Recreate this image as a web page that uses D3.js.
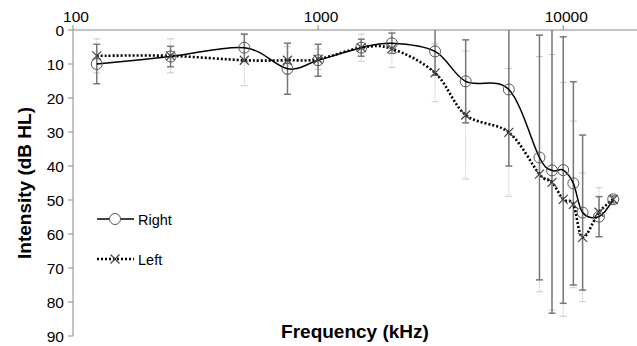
<!DOCTYPE html>
<html>
<head>
<meta charset="utf-8">
<script src="https://cdn.jsdelivr.net/npm/d3@7"></script>
<style>
  body { margin: 0; background: #fff; }
  svg text { font-family: "Liberation Sans", Arimo, Arial, sans-serif; fill: #000; }
</style>
</head>
<body>
<div id="chart"></div>
<script>
// audiogram values
const freqs = [125, 250, 500, 750, 1000, 1500, 2000, 3000, 4000, 6000, 8000, 9000, 10000, 11000, 12000, 14000, 16000];
const rightMean = [10, 7.8, 5.2, 11.4, 8.9, 5.2, 3.9, 6.3, 15.1, 17.5, 37.5, 41.3, 41.2, 45.1, 53.7, 54.9, 49.8];
const rightSD = [5.8, 3, 4, 7.5, 4.7, 2.5, 3, 7, 12.2, 22.5, 36, 42, 39.2, 29.9, 22.8, 5.9, 1];
const leftMean = [7.6, 7.6, 8.9, 8.9, 8.6, 5.2, 5.5, 12.6, 25, 30.1, 42.4, 44.8, 49.8, 51.3, 61, 53.6, 49.8];
const leftSD = [5, 5, 7.5, 4, 3, 4, 5.5, 8.5, 18.8, 18.8, 34.6, 37.6, 34.4, 24.5, 18.9, 7.2, 1];
const xTicks = [100, 1000, 10000];
const yTicks = [0, 10, 20, 30, 40, 50, 60, 70, 80, 90];

const width = 637, height = 346;
const font = "Liberation Sans, Arial, sans-serif";
const svg = d3.select("#chart").append("svg")
    .attr("width", width).attr("height", height);

const x = d3.scaleLog().domain([100, 20000]).range([73, 637]);
const y = d3.scaleLinear().domain([0, 90]).range([30, 336]);

// clip error bars to the plot area
svg.append("clipPath").attr("id", "plot")
  .append("rect").attr("x", 73).attr("y", 30).attr("width", 564).attr("height", 306);

const right = freqs.map((f, i) => ({f, m: rightMean[i], sd: rightSD[i]}));
const left = freqs.map((f, i) => ({f, m: leftMean[i], sd: leftSD[i]}));

function errorBars(data, color, dash, w) {
    const g = svg.append("g").attr("clip-path", "url(#plot)")
        .attr("stroke", color).attr("stroke-width", w);
    g.selectAll("line.v").data(data).join("line")
        .attr("x1", d => x(d.f)).attr("x2", d => x(d.f))
        .attr("y1", d => y(d.m - d.sd)).attr("y2", d => y(d.m + d.sd))
        .attr("stroke-dasharray", dash);
    [-1, 1].forEach(s => {
        g.selectAll(null).data(data).join("line")
            .attr("x1", d => x(d.f) - 3.5).attr("x2", d => x(d.f) + 3.5)
            .attr("y1", d => y(d.m + s * d.sd)).attr("y2", d => y(d.m + s * d.sd));
    });
}
errorBars(left, "#c8c8c8", "1.5,1", 1);
errorBars(right, "#777", null, 1.5);

// axes
const axisCol = "#888";
svg.append("line").attr("x1", 73).attr("x2", 73).attr("y1", 30).attr("y2", 336)
    .attr("stroke", axisCol);
svg.append("line").attr("x1", 73).attr("x2", 637).attr("y1", 30).attr("y2", 30)
    .attr("stroke", axisCol);

svg.selectAll("line.yt").data(yTicks).join("line")
    .attr("x1", 68).attr("x2", 73).attr("y1", d => y(d)).attr("y2", d => y(d))
    .attr("stroke", axisCol);
svg.selectAll("text.yl").data(yTicks).join("text")
    .attr("x", 64).attr("y", d => y(d) + 5.5)
    .attr("text-anchor", "end").attr("font-size", 15.5).attr("font-family", font)
    .text(d => d);

svg.selectAll("line.xt").data(xTicks).join("line")
    .attr("x1", d => x(d)).attr("x2", d => x(d)).attr("y1", 25).attr("y2", 30)
    .attr("stroke", axisCol);
svg.selectAll("text.xl").data(xTicks).join("text")
    .attr("x", d => x(d) + 3).attr("y", 21.5)
    .attr("text-anchor", "middle").attr("font-size", 15.5).attr("font-family", font)
    .text(d => d);

svg.append("text").attr("transform", "translate(31,183) rotate(-90)")
    .attr("text-anchor", "middle").attr("font-size", 19).attr("font-weight", "bold")
    .attr("font-family", font)
    .text("Intensity (dB HL)");
svg.append("text").attr("x", 355).attr("y", 338)
    .attr("text-anchor", "middle").attr("font-size", 19).attr("font-weight", "bold")
    .attr("font-family", font)
    .text("Frequency (kHz)");

// lines
const line = d3.line().x(d => x(d.f)).y(d => y(d.m)).curve(d3.curveCatmullRom.alpha(0));
svg.append("path").datum(left).attr("d", line)
    .attr("fill", "none").attr("stroke", "#000").attr("stroke-width", 2.6)
    .attr("stroke-dasharray", "2,2");
svg.append("path").datum(right).attr("d", line)
    .attr("fill", "none").attr("stroke", "#000").attr("stroke-width", 1.5);

// markers
function circleMark(sel) {
    sel.attr("r", 5.5).attr("fill", "none").attr("stroke", "#555").attr("stroke-width", 1);
}
function crossPath(cx, cy) {
    const s = 4.5;
    return `M${cx - s},${cy - s}L${cx + s},${cy + s}M${cx - s},${cy + s}L${cx + s},${cy - s}`;
}
svg.selectAll("path.xm").data(left).join("path")
    .attr("d", d => crossPath(x(d.f), y(d.m)))
    .attr("stroke", "#444").attr("stroke-width", 1.2);
svg.selectAll("circle.rm").data(right).join("circle")
    .attr("cx", d => x(d.f)).attr("cy", d => y(d.m))
    .call(circleMark);

// legend
const lg = svg.append("g");
lg.append("line").attr("x1", 97).attr("x2", 134).attr("y1", 219).attr("y2", 219)
    .attr("stroke", "#000").attr("stroke-width", 1.5);
lg.append("circle").attr("cx", 115).attr("cy", 219).call(circleMark).attr("fill", "#fff");
lg.append("text").attr("x", 138).attr("y", 224.5).attr("font-size", 14.5).attr("font-family", font).text("Right");
lg.append("line").attr("x1", 97).attr("x2", 134).attr("y1", 259).attr("y2", 259)
    .attr("stroke", "#000").attr("stroke-width", 2.6).attr("stroke-dasharray", "2,2");
lg.append("path").attr("d", crossPath(115, 259)).attr("stroke", "#444").attr("stroke-width", 1.2);
lg.append("text").attr("x", 138).attr("y", 264.5).attr("font-size", 14.5).attr("font-family", font).text("Left");
</script>
</body>
</html>
